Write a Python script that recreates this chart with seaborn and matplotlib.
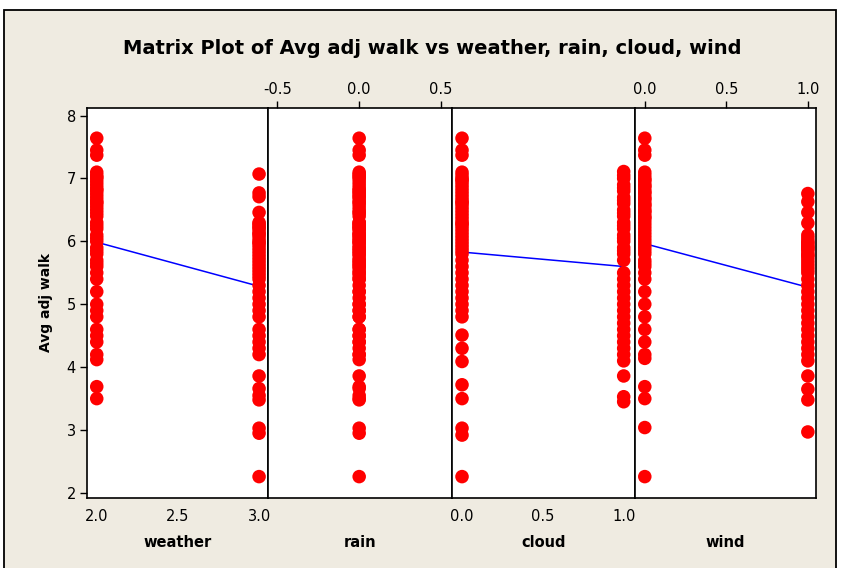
# Matrix plot of Avg adj walk against the weather variables (Minitab style)
# Saves the figure to out.png

import numpy as np
import matplotlib
matplotlib.use("Agg")
import matplotlib.pyplot as plt
import seaborn as sns
import pandas as pd
from matplotlib.patches import Rectangle


# Avg adj walk values, grouped by the x value of each panel
weather_2 = [7.64, 7.45, 7.37,
             7.1, 7.0, 6.9, 6.8, 6.7, 6.6, 6.5, 6.4, 6.3, 6.2, 6.1, 6.0, 5.9, 5.8, 5.7, 5.6, 5.5,
             7.05, 6.85, 6.65, 6.45, 6.25, 6.05, 5.85, 5.65, 6.95, 6.75, 6.55,
             7.02, 6.82, 6.62,
             5.4, 5.2, 5.0, 4.9, 4.8, 4.6, 4.5, 4.4, 4.2, 4.12,
             3.69, 3.5]
weather_3 = [7.07, 6.77, 6.71, 6.46,
             6.3, 6.2, 6.1, 6.0, 5.9, 5.8, 5.7, 5.6, 5.5, 5.4, 5.3, 5.2, 5.1, 5.0, 4.9, 4.8,
             6.25, 6.05, 5.85, 5.65, 5.45, 6.15, 5.95, 5.75, 5.55, 6.28, 6.12, 5.98, 6.22,
             4.6, 4.5, 4.4, 4.3, 4.2,
             3.86, 3.66, 3.55, 3.48, 3.03, 2.95, 2.26]

# rain is 0 for every day, so the column holds all the observations
rain_0 = weather_2 + weather_3

cloud_0 = [7.64, 7.45, 7.37,
           7.1, 7.0, 6.9, 6.8, 6.7, 6.6, 6.5, 6.4, 6.3, 6.2, 6.1, 6.0,
           5.9, 5.8, 5.7, 5.6, 5.5, 5.4, 5.3, 5.2, 5.1, 5.0, 4.9, 4.8,
           7.05, 6.85, 6.65, 6.45, 6.25, 6.05, 5.85,
           6.95, 6.75, 6.55, 6.35, 6.15, 6.98, 6.62, 6.28, 5.95,
           4.51, 4.30, 4.09, 3.72, 3.50, 3.03, 2.92, 2.26]
cloud_1 = [7.11, 7.0, 6.9, 6.8, 6.7, 6.6, 6.5, 6.4, 6.3, 6.2, 6.1, 6.0, 5.9, 5.8, 5.7,
           7.05, 6.85, 6.65, 6.45, 6.25, 6.05, 5.85,
           5.5, 5.4, 5.3, 5.2, 5.1, 5.0, 4.9, 4.8, 4.7, 4.6, 4.5, 4.4, 4.3, 4.2, 4.1,
           3.86, 3.53, 3.45]

wind_0 = [7.64, 7.45, 7.37,
          7.1, 7.0, 6.9, 6.8, 6.7, 6.6, 6.5, 6.4, 6.3, 6.2, 6.1, 6.0, 5.9, 5.8, 5.7, 5.6, 5.5,
          7.05, 6.85, 6.65, 6.45, 6.25, 6.05, 5.85, 5.65,
          6.95, 6.75, 6.55, 6.35, 6.15, 5.95, 6.98, 6.88, 6.78, 6.68, 6.58, 6.48, 6.38,
          5.4, 5.2, 5.0, 4.8, 4.6, 4.4, 4.2, 4.14,
          3.69, 3.50, 3.04, 2.26]
wind_1 = [6.76, 6.63, 6.46, 6.29,
          6.1, 6.0, 5.9, 5.8, 5.7, 5.6, 5.5, 5.4, 5.3, 5.2, 5.1, 5.0,
          4.9, 4.8, 4.7, 4.6, 4.5, 4.4, 4.3, 4.2, 4.1,
          6.05, 5.95, 5.85, 5.75, 5.65, 5.55, 5.98, 5.88, 5.78, 5.92,
          3.86, 3.65, 3.48, 2.97]

# x ticks of each panel
weather_ticks = [2.0, 2.5, 3.0]
rain_ticks = [-0.5, 0.0, 0.5]
cloud_ticks = [0.0, 0.5, 1.0]
wind_ticks = [0.0, 0.5, 1.0]
y_ticks = [2, 3, 4, 5, 6, 7, 8]


def long_form(groups):
    # groups is a list of (x value, list of y values)
    xs, ys = [], []
    for xv, vals in groups:
        xs += [xv] * len(vals)
        ys += vals
    return pd.DataFrame({"x": xs, "y": ys})


weather_df = long_form([(2, weather_2), (3, weather_3)])
rain_df = long_form([(0, rain_0)])
cloud_df = long_form([(0, cloud_0), (1, cloud_1)])
wind_df = long_form([(0, wind_0), (1, wind_1)])

sns.set_style("white")
plt.rcParams['font.family'] = ['DejaVu Sans']
plt.rcParams['text.color'] = 'black'
plt.rcParams['xtick.color'] = 'black'
plt.rcParams['ytick.color'] = 'black'
plt.rcParams['axes.labelcolor'] = 'black'

W, H = 849, 568
fig = plt.figure(figsize=(W / 100, H / 100), dpi=100)
fig.patch.set_facecolor("white")
# beige Minitab frame
fig.patches.append(Rectangle((4 / W, -0.02), 832 / W, 1.02 - 10 / H, transform=fig.transFigure,
                             facecolor="#EFEBE1", edgecolor="black", lw=1.3, zorder=-10))

# name, data, x limits, ticks, tick side, fit line, left / right pixel edge
panels = [("weather", weather_df, (1.94, 3.055), weather_ticks, "bottom", True, 87, 268),
          ("rain", rain_df, (-0.557, 0.567), rain_ticks, "top", False, 268, 452),
          ("cloud", cloud_df, (-0.062, 1.07), cloud_ticks, "bottom", True, 452, 635),
          ("wind", wind_df, (-0.06, 1.05), wind_ticks, "top", True, 635, 816)]

top_px, bot_px = 108, 498
for i, (name, df, xlim, ticks, side, fit, l_px, r_px) in enumerate(panels):
    ax = fig.add_axes([l_px / W, 1 - bot_px / H, (r_px - l_px) / W, (bot_px - top_px) / H])
    ax.set_facecolor("white")
    sns.scatterplot(data=df, x="x", y="y", ax=ax, color="#FF0000", s=95,
                    edgecolor="none", linewidth=0, zorder=3)
    if fit:
        # fitted line sits under the dots, as in Minitab
        sns.regplot(data=df, x="x", y="y", ax=ax, scatter=False, ci=None,
                    color="#0000FF", line_kws={"lw": 1.1, "zorder": 2})
    ax.set_xlim(*xlim)
    ax.set_ylim(1.92, 8.12)
    ax.set_xticks(ticks)
    ax.set_xticklabels([f"{t:.1f}" for t in ticks], fontsize=10.5)
    if side == "top":
        ax.xaxis.tick_top()
    ax.tick_params(axis="x", direction="out", length=5, width=1, color="black", pad=3)
    ax.set_xlabel("")
    ax.set_ylabel("")
    if i == 0:
        ax.set_yticks(y_ticks)
        ax.set_yticklabels([str(t) for t in y_ticks], fontsize=10.5)
        ax.tick_params(axis="y", direction="out", length=5, width=1, color="black", pad=3, left=True)
        ax.set_ylabel("Avg adj walk", fontsize=10, fontweight="bold", labelpad=10)
    else:
        ax.set_yticks([])
    for sp in ax.spines.values():
        sp.set_color("black")
        sp.set_linewidth(1.2)
    ax.text(0.5, -0.113, name, transform=ax.transAxes, ha="center", va="center",
            fontsize=10.5, fontweight="bold")

fig.text(432 / W, 1 - 48 / H, "Matrix Plot of Avg adj walk vs weather, rain, cloud, wind",
         ha="center", va="center", fontsize=14, fontweight="bold")

plt.savefig("out.png", dpi=100, facecolor=fig.get_facecolor())
plt.close()
